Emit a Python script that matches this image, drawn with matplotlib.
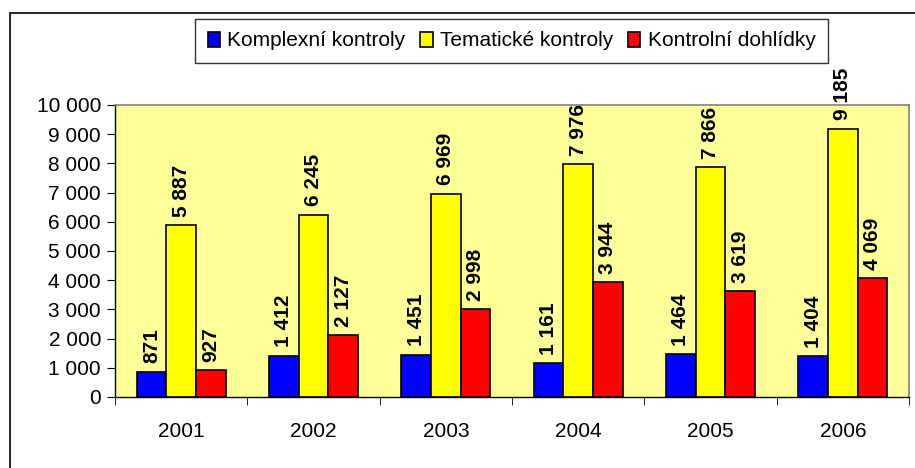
import numpy as np
import matplotlib.pyplot as plt
from matplotlib.patches import Rectangle

plt.rcParams['font.family'] = ['Liberation Sans', 'DejaVu Sans']

years = ['2001', '2002', '2003', '2004', '2005', '2006']
komplexni = [871, 1412, 1451, 1161, 1464, 1404]
tematicke = [5887, 6245, 6969, 7976, 7866, 9185]
dohlidky = [927, 2127, 2998, 3944, 3619, 4069]
series_names = ['Komplexní kontroly', 'Tematické kontroly', 'Kontrolní dohlídky']
colors = ['#0000FF', '#FFFF00', '#FF0000']
yticks = np.arange(0, 10001, 1000)


def fmt(v):
    return '{:,}'.format(int(v)).replace(',', ' ')


fig = plt.figure(figsize=(9.15, 4.68), dpi=100)
ax = fig.add_axes([115/915, 1-397/468, (909-115)/915, (397-105)/468])
ax.set_facecolor('#FFFF99')

x = np.arange(len(years))
w = 0.224
for i, (vals, name, c) in enumerate(zip([komplexni, tematicke, dohlidky], series_names, colors)):
    pos = x + (i - 1) * w
    ax.bar(pos, vals, w, color=c, edgecolor='black', linewidth=1.2, label=name, zorder=2)
    for p, v in zip(pos, vals):
        ax.annotate(fmt(v), (p, v), xytext=(0, 6), textcoords='offset points',
                    rotation=90, ha='center', va='bottom', fontsize=15,
                    fontweight='bold', annotation_clip=False, clip_on=False)

ax.set_xlim(-0.5, len(years) - 0.5)
ax.set_ylim(0, 10000)
ax.set_yticks(yticks)
ax.set_yticklabels([fmt(t) for t in yticks], fontsize=15)
ax.set_xticks(x)
ax.set_xticklabels(years, fontsize=15)
ax.tick_params(axis='x', length=0, pad=18)
ax.set_xticks(np.arange(-0.5, len(years)), minor=True)
ax.tick_params(axis='x', which='minor', length=6, direction='out', color='black')
ax.tick_params(axis='y', length=6, direction='out', color='black', pad=4)

for s in ['top', 'right']:
    ax.spines[s].set_color('#808080')
    ax.spines[s].set_linewidth(1.2)
for s in ['left', 'bottom']:
    ax.spines[s].set_color('black')
    ax.spines[s].set_linewidth(1)

leg = fig.legend(loc='center', bbox_to_anchor=(511.5/915, 1-41/468), ncol=3,
                 fontsize=15, frameon=True, fancybox=False, edgecolor='black',
                 handlelength=0.6, handleheight=0.75, handletextpad=0.35,
                 columnspacing=0.7, borderpad=0.62, borderaxespad=0)
leg.get_frame().set_linewidth(1)

fig.patches.append(Rectangle((10/915, -0.1), 2, 1-13/468+0.1, transform=fig.transFigure,
                             fill=False, edgecolor='black', linewidth=1.2, figure=fig))

fig.savefig('out.png', dpi=100)
